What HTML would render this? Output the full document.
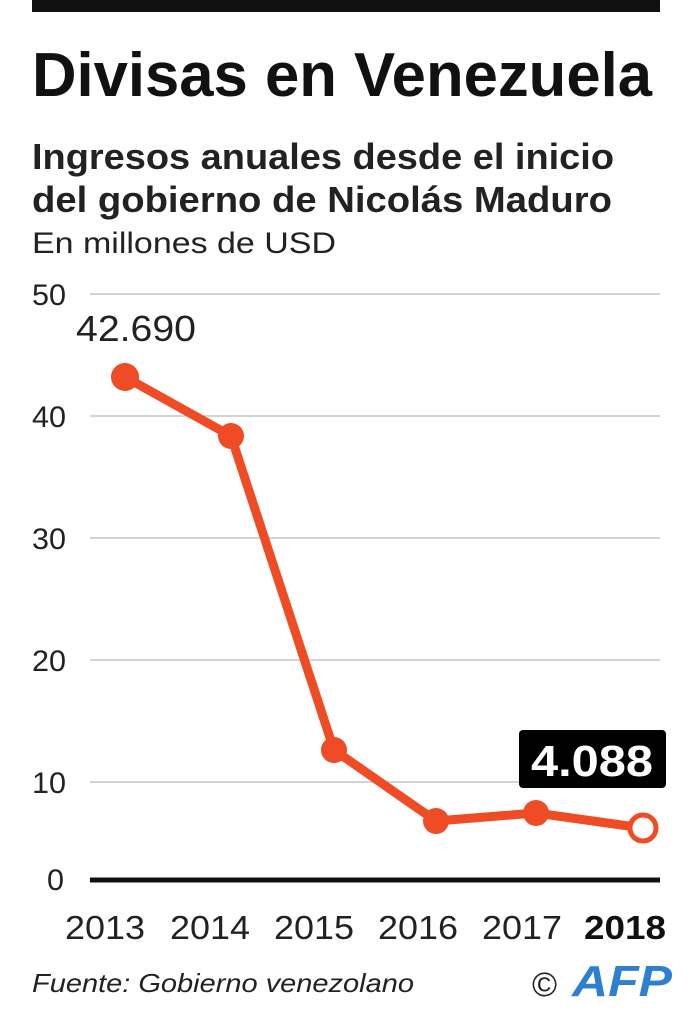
<!DOCTYPE html>
<html><head><meta charset="utf-8"><style>
body{margin:0;background:#fff;}
svg{display:block;font-family:"Liberation Sans",sans-serif;}
</style></head><body>
<svg width="690" height="1024" viewBox="0 0 690 1024">
<rect x="32" y="0" width="628" height="12" fill="#111"/>
<text x="32" y="96" font-size="62" font-weight="bold" fill="#111" textLength="620" lengthAdjust="spacingAndGlyphs">Divisas en Venezuela</text>
<text x="32" y="169" font-size="36" font-weight="bold" fill="#222" textLength="582" lengthAdjust="spacingAndGlyphs">Ingresos anuales desde el inicio</text>
<text x="32" y="212" font-size="36" font-weight="bold" fill="#222" textLength="580" lengthAdjust="spacingAndGlyphs">del gobierno de Nicolás Maduro</text>
<text x="32" y="253" font-size="30" fill="#222" textLength="304" lengthAdjust="spacingAndGlyphs">En millones de USD</text>
<g stroke="#bbb" stroke-width="1.2">
<line x1="90" y1="294" x2="660" y2="294"/>
<line x1="90" y1="416" x2="660" y2="416"/>
<line x1="90" y1="538" x2="660" y2="538"/>
<line x1="90" y1="660" x2="660" y2="660"/>
<line x1="90" y1="782" x2="519" y2="782"/>
</g>
<line x1="90" y1="880" x2="660" y2="880" stroke="#111" stroke-width="5"/>
<g font-size="30" fill="#222">
<text x="32" y="305" textLength="34" lengthAdjust="spacingAndGlyphs">50</text>
<text x="32" y="427" textLength="34" lengthAdjust="spacingAndGlyphs">40</text>
<text x="32" y="549" textLength="34" lengthAdjust="spacingAndGlyphs">30</text>
<text x="32" y="671" textLength="34" lengthAdjust="spacingAndGlyphs">20</text>
<text x="32" y="793" textLength="34" lengthAdjust="spacingAndGlyphs">10</text>
<text x="47" y="890" textLength="17" lengthAdjust="spacingAndGlyphs">0</text>
</g>
<text x="76" y="341" font-size="36" fill="#222" textLength="120" lengthAdjust="spacingAndGlyphs">42.690</text>
<polyline points="125,377 231,436 334,750 436,821 536,813 643,828" fill="none" stroke="#ef4b24" stroke-width="9" stroke-linejoin="round"/>
<g fill="#ef4b24">
<circle cx="125" cy="377" r="14"/><circle cx="231" cy="436" r="13"/><circle cx="334" cy="750" r="13"/>
<circle cx="436" cy="821" r="13"/><circle cx="536" cy="813" r="13"/>
</g>
<circle cx="643" cy="828" r="13" fill="#fff" stroke="#ef4b24" stroke-width="5"/>
<rect x="519" y="730" width="147" height="58" rx="4" fill="#000"/>
<text x="592" y="776" font-size="44" font-weight="bold" fill="#fff" text-anchor="middle" textLength="122" lengthAdjust="spacingAndGlyphs">4.088</text>
<g font-size="33" fill="#222" text-anchor="middle">
<text x="105" y="939" textLength="80" lengthAdjust="spacingAndGlyphs">2013</text><text x="210" y="939" textLength="80" lengthAdjust="spacingAndGlyphs">2014</text><text x="314" y="939" textLength="80" lengthAdjust="spacingAndGlyphs">2015</text>
<text x="418" y="939" textLength="80" lengthAdjust="spacingAndGlyphs">2016</text><text x="522" y="939" textLength="80" lengthAdjust="spacingAndGlyphs">2017</text>
<text x="625" y="939" font-weight="bold" fill="#111" textLength="82" lengthAdjust="spacingAndGlyphs">2018</text>
</g>
<text x="32" y="992" font-size="26" font-style="italic" fill="#222" textLength="382" lengthAdjust="spacingAndGlyphs">Fuente: Gobierno venezolano</text>
<text x="532" y="996" font-size="34" fill="#222">©</text>
<text x="572" y="996" font-size="44" font-weight="bold" font-style="italic" fill="#2f7fd1" textLength="100" lengthAdjust="spacingAndGlyphs">AFP</text>
</svg>
</body></html>
